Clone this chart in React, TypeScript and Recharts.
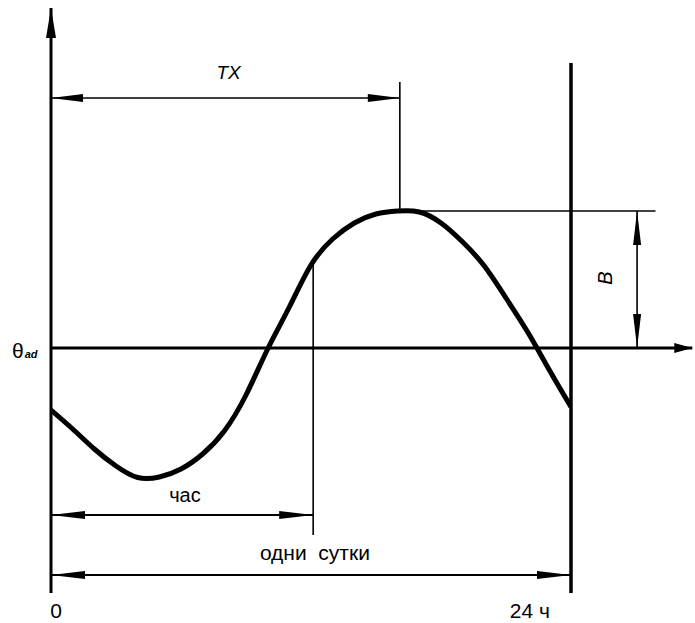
import React from 'react';
import { LineChart, Line, XAxis, YAxis, ReferenceLine, ReferenceDot } from 'recharts';

// hours of the day and the temperature (theta_ad = 0)
const hours = [0, 1, 2, 3, 4, 5, 6, 7, 8, 9, 10, 11, 12, 13, 14, 15, 16, 17, 18, 19, 20, 21, 22, 23, 24];
const temperature = [
  -6.2, -8.1, -10.1, -11.8, -12.95, -12.9, -12.1, -10.6, -8.3, -4.7, -0.1, 4.1, 8.3,
  10.9, 12.5, 13.4, 13.7, 13.6, 12.5, 10.6, 8.2, 5.0, 1.6, -2.2, -5.9,
];
const xTicks = [0, 24];
const xTickLabels = ['0', '24 ч'];

// dimension marks, in data units (hours / degrees)
const THETA_AD = 0;
const PEAK = 13.7;
const TX_HOURS = 16.1;
const HOUR_MARK = 12.1;
const AXIS_TOP = 34;
const AXIS_BOTTOM = -24.5;
const RIGHT_TOP = 28.5;
const ARROW_END = 29.6;
const TX_Y = 25;
const TX_EXT_TOP = 26.6;
const PEAK_LINE_END = 27.9;
const B_X = 27.05;
const HOUR_DIM_Y = -16.7;
const HOUR_EXT_BOTTOM = -18.7;
const DAY_DIM_Y = -22.7;

const data = hours.map((h, i) => ({ h, t: temperature[i] }));

const FONT = '"Liberation Sans", Arial, sans-serif';

type Seg = { x1?: number; y1?: number; x2?: number; y2?: number };

const arrowLine =
  (opts: { start?: boolean; end?: boolean; width: number; len?: number; half?: number }) =>
  (p: Seg) => {
    const x1 = Number(p.x1);
    const y1 = Number(p.y1);
    const x2 = Number(p.x2);
    const y2 = Number(p.y2);
    const len = opts.len ?? 32;
    const half = opts.half ?? 4;
    const d = Math.hypot(x2 - x1, y2 - y1) || 1;
    const ux = (x2 - x1) / d;
    const uy = (y2 - y1) / d;
    const head = (tx: number, ty: number, sx: number, sy: number) => {
      const bx = tx - sx * len;
      const by = ty - sy * len;
      return `${tx},${ty} ${bx - sy * half},${by + sx * half} ${bx + sy * half},${by - sx * half}`;
    };
    return (
      <g>
        <line x1={x1} y1={y1} x2={x2} y2={y2} stroke="#000" strokeWidth={opts.width} />
        {opts.start && <polygon points={head(x1, y1, -ux, -uy)} fill="#000" />}
        {opts.end && <polygon points={head(x2, y2, ux, uy)} fill="#000" />}
      </g>
    );
  };

const label =
  (text: string, opts: { size?: number; italic?: boolean; anchor?: string; rotate?: number } = {}) =>
  (p: { cx?: number; cy?: number }) => {
    const cx = Number(p.cx);
    const cy = Number(p.cy);
    return (
      <text
        x={cx}
        y={cy}
        fontFamily={FONT}
        fontSize={opts.size ?? 20}
        fontStyle={opts.italic ? 'italic' : 'normal'}
        textAnchor={opts.anchor ?? 'middle'}
        dominantBaseline={opts.rotate ? 'central' : 'auto'}
        transform={opts.rotate ? `rotate(${opts.rotate} ${cx} ${cy})` : undefined}
        style={{ whiteSpace: 'pre' }}
        fill="#000"
      >
        {text}
      </text>
    );
  };

const thetaLabel = (p: { cx?: number; cy?: number }) => (
  <text x={Number(p.cx)} y={Number(p.cy)} fontFamily={FONT} fontSize={21} fill="#000">
    θ
    <tspan fontSize={11} fontStyle="italic" fontWeight="bold" dx={1}>
      ad
    </tspan>
  </text>
);

const TimeTick = (p: any) => {
  const i = xTicks.indexOf(p.payload.value);
  const last = i === xTicks.length - 1;
  return (
    <text
      x={last ? p.x - 21 : p.x + 5}
      y={p.y + 17}
      fontFamily={FONT}
      fontSize={21}
      textAnchor={last ? 'end' : 'middle'}
      fill="#000"
    >
      {xTickLabels[i]}
    </text>
  );
};

export default function App() {
  return (
    <div style={{ position: 'absolute', left: 0, top: 0, width: 695, height: 623, background: '#fff' }}>
      <LineChart width={695} height={623} data={data} margin={{ top: 8, right: 124, bottom: 0, left: 51 }}>
        <XAxis
          dataKey="h"
          type="number"
          domain={[0, 24]}
          ticks={xTicks}
          interval={0}
          axisLine={false}
          tickLine={false}
          height={30}
          tick={TimeTick}
          allowDataOverflow
        />
        <YAxis hide type="number" domain={[AXIS_BOTTOM, AXIS_TOP]} allowDataOverflow />

        {/* axes */}
        <ReferenceLine
          segment={[{ x: 0, y: AXIS_BOTTOM }, { x: 0, y: AXIS_TOP }]}
          ifOverflow="visible"
          shape={arrowLine({ end: true, width: 3, len: 30, half: 5 })}
        />
        <ReferenceLine
          segment={[{ x: 0, y: THETA_AD }, { x: ARROW_END, y: THETA_AD }]}
          ifOverflow="visible"
          shape={arrowLine({ end: true, width: 3, len: 18, half: 5 })}
        />
        <ReferenceLine
          segment={[{ x: 24, y: AXIS_BOTTOM }, { x: 24, y: RIGHT_TOP }]}
          ifOverflow="visible"
          shape={arrowLine({ width: 3.5 })}
        />

        {/* TX */}
        <ReferenceLine
          segment={[{ x: 0, y: TX_Y }, { x: TX_HOURS, y: TX_Y }]}
          ifOverflow="visible"
          shape={arrowLine({ start: true, end: true, width: 1.6 })}
        />
        <ReferenceLine
          segment={[{ x: TX_HOURS, y: TX_EXT_TOP }, { x: TX_HOURS, y: PEAK }]}
          ifOverflow="visible"
          shape={arrowLine({ width: 1.6 })}
        />
        <ReferenceDot x={8.2} y={26.9} r={0} ifOverflow="visible" shape={label('TX', { italic: true, size: 19 })} />

        {/* B */}
        <ReferenceLine
          segment={[{ x: TX_HOURS, y: PEAK }, { x: PEAK_LINE_END, y: PEAK }]}
          ifOverflow="visible"
          shape={arrowLine({ width: 1.6 })}
        />
        <ReferenceLine
          segment={[{ x: B_X, y: PEAK }, { x: B_X, y: THETA_AD }]}
          ifOverflow="visible"
          shape={arrowLine({ start: true, end: true, width: 1.6, len: 34 })}
        />
        <ReferenceDot x={25.57} y={7} r={0} ifOverflow="visible" shape={label('B', { italic: true, size: 20, rotate: -90 })} />

        {/* час */}
        <ReferenceLine
          segment={[{ x: HOUR_MARK, y: 8.3 }, { x: HOUR_MARK, y: HOUR_EXT_BOTTOM }]}
          ifOverflow="visible"
          shape={arrowLine({ width: 1.6 })}
        />
        <ReferenceLine
          segment={[{ x: 0, y: HOUR_DIM_Y }, { x: HOUR_MARK, y: HOUR_DIM_Y }]}
          ifOverflow="visible"
          shape={arrowLine({ start: true, end: true, width: 1.8, len: 34 })}
        />
        <ReferenceDot x={6.18} y={-15.4} r={0} ifOverflow="visible" shape={label('час')} />

        {/* одни сутки */}
        <ReferenceLine
          segment={[{ x: 0, y: DAY_DIM_Y }, { x: 24, y: DAY_DIM_Y }]}
          ifOverflow="visible"
          shape={arrowLine({ start: true, end: true, width: 1.8, len: 34 })}
        />
        <ReferenceDot x={12.18} y={-21.2} r={0} ifOverflow="visible" shape={label('одни  сутки', { size: 21 })} />

        <ReferenceDot x={-1.8} y={-1.0} r={0} ifOverflow="visible" shape={thetaLabel} />

        <Line
          type="natural"
          dataKey="t"
          stroke="#000"
          strokeWidth={5}
          dot={false}
          activeDot={false}
          isAnimationActive={false}
        />
      </LineChart>
    </div>
  );
}
